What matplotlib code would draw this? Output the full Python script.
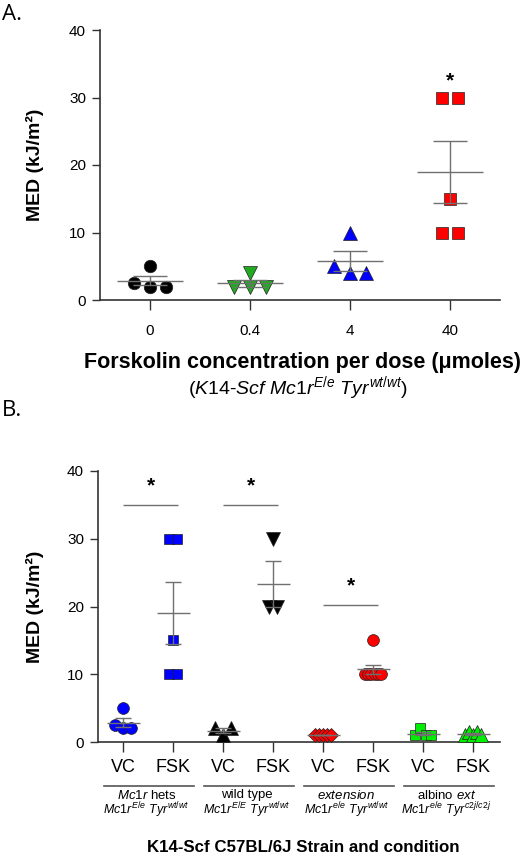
import numpy as np
import matplotlib
matplotlib.use("Agg")
import matplotlib.pyplot as plt
import matplotlib.transforms as mtransforms

plt.rcParams['font.family'] = ['Liberation Sans', 'DejaVu Sans']
plt.rcParams['mathtext.fontset'] = 'custom'
plt.rcParams['mathtext.rm'] = 'Liberation Sans'
plt.rcParams['mathtext.it'] = 'Liberation Sans:italic'
plt.rcParams['mathtext.bf'] = 'Liberation Sans:bold'

# ---- panel A data: MED per forskolin dose ----
doses = ['0', '0.4', '4', '40']
med_a = [
    [5, 2.5, 2, 2],
    [4, 2, 2, 2],
    [10, 5, 4, 4],
    [30, 30, 15, 10, 10],
]
markers_a = ['o', 'v', '^', 's']
colors_a = ['#000000', '#22aa22', '#0000ff', '#ff0000']
sig_a = [3]  # groups with asterisk

# ---- panel B data: strain x condition ----
cond = ['VC', 'FSK'] * 4
med_b = [
    [5, 2.5, 2, 2],
    [30, 30, 15, 10, 10],
    [2, 1, 2],
    [30, 20, 20],
    [1, 1, 1, 1, 1],
    [15, 10, 10, 10, 10, 10, 10],
    [1, 2, 1, 1],
    [1, 1.5, 1, 1.5, 1],
]
markers_b = ['o', 's', '^', 'v', 'D', 'o', 's', '^']
colors_b = ['#0000ff', '#0000ff', '#000000', '#000000',
            '#ff0000', '#ff0000', '#00ee00', '#00ee00']
groups = [r'$\mathit{Mc1r}$ hets', 'wild type', r'$\mathit{extension}$',
          r'albino $\mathit{ext}$']
genos = [r'$\mathit{Mc1r}^{E/e}\ \mathit{Tyr}^{wt/wt}$',
         r'$\mathit{Mc1r}^{E/E}\ \mathit{Tyr}^{wt/wt}$',
         r'$\mathit{Mc1r}^{e/e}\ \mathit{Tyr}^{wt/wt}$',
         r'$\mathit{Mc1r}^{e/e}\ \mathit{Tyr}^{c2j/c2j}$']
sig_b = [(0, 1, 35), (2, 3, 35), (4, 5, 20.2)]

# triangles look small next to circles at the same size
size_fix = {'o': 1.0, 's': 0.92, '^': 1.15, 'v': 1.15, 'D': 0.85}


def spread(vals, step, maxspan, thresh=1.6):
    # place close values side by side, keeping array order within a cluster
    vals = np.asarray(vals, float)
    order = np.argsort(vals, kind='stable')
    clusters, cur = [], [order[0]]
    for i in order[1:]:
        if vals[i] - vals[cur[-1]] < thresh:
            cur.append(i)
        else:
            clusters.append(cur)
            cur = [i]
    clusters.append(cur)
    off = np.zeros(len(vals))
    for c in clusters:
        c = sorted(c)
        n = len(c)
        s = step if n < 2 else min(step, maxspan / (n - 1))
        for k, i in enumerate(c):
            off[i] = (k - (n - 1) / 2) * s
    return off


def draw_group(ax, x, vals, marker, color, step, maxspan, half, cap, ms):
    vals = np.asarray(vals, float)
    off = spread(vals, step, maxspan)
    ax.plot(x + off, vals, ls='none', marker=marker,
            ms=ms * size_fix[marker], mfc=color,
            mec='#222222', mew=0.5, zorder=3, clip_on=False)
    m = vals.mean()
    sem = vals.std(ddof=1) / np.sqrt(len(vals))
    lc = '#707070'
    ax.hlines(m, x - half, x + half, color=lc, lw=1, zorder=4)
    ax.hlines([m - sem, m + sem], x - cap, x + cap, color=lc, lw=1, zorder=4)
    ax.vlines(x, m - sem, m + sem, color=lc, lw=1, zorder=4)


def style_axes(ax):
    for s in ['top', 'right']:
        ax.spines[s].set_visible(False)
    for s in ['left', 'bottom']:
        ax.spines[s].set_color('#333333')
        ax.spines[s].set_linewidth(1.2)
    ax.set_ylim(0, 40)
    ax.set_yticks([0, 10, 20, 30, 40])
    ax.tick_params(axis='y', length=6, width=1, color='#333333',
                   labelsize=11, pad=4)
    ax.set_ylabel('MED (kJ/m²)', fontsize=14, fontweight='bold')


fig = plt.figure(figsize=(5.28, 8.56), dpi=100)

# ---------------- panel A ----------------
ax = fig.add_axes([100 / 528, 1 - 300 / 856, 400 / 528, 270 / 856])
style_axes(ax)
ax.set_xlim(-0.5, 3.5)
for i, vals in enumerate(med_a):
    draw_group(ax, i, vals, markers_a[i], colors_a[i],
               step=0.16, maxspan=0.4, half=0.33, cap=0.17, ms=9)
for i in sig_a:
    ax.text(i, 32.5, '*', ha='center', va='center', fontsize=15,
            fontweight='bold')
ax.set_xticks(range(len(doses)))
ax.set_xticklabels(doses)
ax.tick_params(axis='x', length=7, width=1, color='#333333',
               labelsize=11, pad=10)
ax.yaxis.set_label_coords(-0.14, 0.5)
ax.text(0.505, -0.232, 'Forskolin concentration per dose (μmoles)',
        transform=ax.transAxes, ha='center', va='center', fontsize=15.5,
        fontweight='bold')
ax.text(0.495, -0.327,
        r'$(\mathit{K14\text{-}Scf\ Mc1r}^{E/e}\ \mathit{Tyr}^{wt/wt})$',
        transform=ax.transAxes, ha='center', va='center', fontsize=14)

# ---------------- panel B ----------------
bx = fig.add_axes([98 / 528, 1 - 742 / 856, 402 / 528, 271 / 856])
style_axes(bx)
bx.set_xlim(-0.5, 7.54)
for i, vals in enumerate(med_b):
    draw_group(bx, i, vals, markers_b[i], colors_b[i],
               step=0.17, maxspan=0.32, half=0.33, cap=0.16, ms=8.5)
for a, b, y in sig_b:
    bx.hlines(y, a, b + 0.1, color='#707070', lw=1)
    bx.text((a + b + 0.1) / 2, y + 2.8, '*', ha='center', va='center',
            fontsize=15, fontweight='bold')
bx.set_xticks(range(len(cond)))
bx.set_xticklabels(cond)
bx.tick_params(axis='x', length=7, width=1, color='#333333',
               labelsize=13, pad=5)
bx.yaxis.set_label_coords(-0.134, 0.5)

trans = mtransforms.blended_transform_factory(bx.transData, bx.transAxes)
for k in range(4):
    c = 2 * k + 0.52
    bx.plot([c - 0.9, c + 0.9], [-0.162, -0.162], transform=trans,
            color='#555555', lw=1.2, clip_on=False)
    bx.text(c - 0.05, -0.197, groups[k], transform=trans, ha='center',
            va='center', fontsize=9.5)
    bx.text(c - 0.05, -0.252, genos[k], transform=trans, ha='center',
            va='center', fontsize=9)
bx.text(0.51, -0.388, 'K14-Scf C57BL/6J Strain and condition',
        transform=bx.transAxes, ha='center', va='center', fontsize=12.2,
        fontweight='bold')

# panel letters
fig.text(2 / 528, 1 - 14 / 856, 'A.', fontsize=16, family='Open Sans',
         va='center', ha='left')
fig.text(2 / 528, 1 - 410 / 856, 'B.', fontsize=16, family='Open Sans',
         va='center', ha='left')

fig.savefig('out.png', dpi=100)
